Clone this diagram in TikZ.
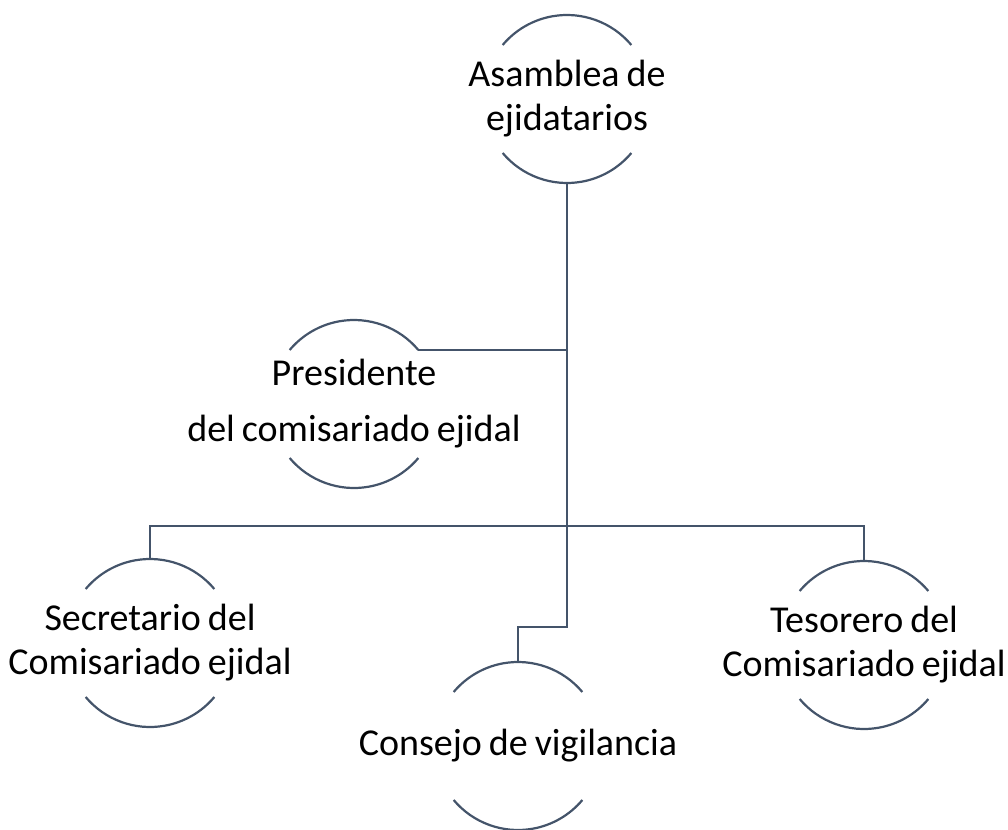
\documentclass[tikz,border=0pt]{standalone}
\usepackage{fontspec}
\setmainfont{Carlito}
\usetikzlibrary{calc}
\definecolor{linecol}{HTML}{44546A}
\newcommand\labelfont{\fontsize{38}{44}\selectfont\spaceskip=7pt plus 2pt minus 1pt\relax}
\tikzset{
  ring/.style={draw=linecol, line width=2.2pt},
  conn/.style={draw=linecol, line width=2.4pt},
  label/.style={align=center, inner sep=0pt, text=black, font=\labelfont}
}
\newcommand\ringarcs[1]{%
  \draw[ring] ([shift={(40:84)}]#1.center) arc[start angle=40,end angle=140,radius=84];
  \draw[ring] ([shift={(220:84)}]#1.center) arc[start angle=220,end angle=320,radius=84];
  \coordinate (#1-t) at ([yshift=84pt]#1.center);
  \coordinate (#1-b) at ([yshift=-84pt]#1.center);
  \coordinate (#1-ne) at ([shift={(40:84)}]#1.center);
}
\begin{document}
\begin{tikzpicture}[x=1pt,y=1pt]
\useasboundingbox (0,0) rectangle (1008,-829);
\node[label] (asamblea) at (567,-99) {Asamblea de\\ejidatarios};
\node[label] (presidente) at (354,-404) {Presidente\\[12pt]del comisariado ejidal};
\node[label] (secretario) at (150,-643) {Secretario del\\Comisariado ejidal};
\node[label] (consejo) at (518,-746) {Consejo de vigilancia};
\node[label] (tesorero) at (864,-645) {Tesorero del\\Comisariado ejidal};
\ringarcs{asamblea}
\ringarcs{presidente}
\ringarcs{secretario}
\ringarcs{consejo}
\ringarcs{tesorero}
\draw[conn] (asamblea-b) |- ($(consejo-t)+(0,35)$) -- (consejo-t);
\draw[conn] (presidente-ne) -- (presidente-ne -| asamblea-b);
\draw[conn] (secretario-t) -- ++(0,33) -| (tesorero-t);
\end{tikzpicture}
\end{document}
